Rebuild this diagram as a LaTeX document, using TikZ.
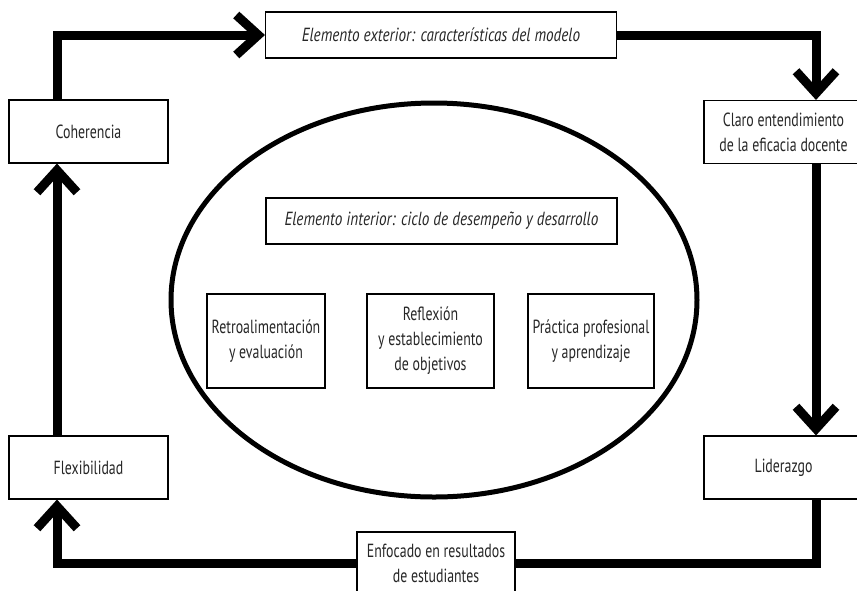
\documentclass[tikz,border=0pt]{standalone}
\usepackage{fontspec}
\setmainfont[FakeStretch=0.73]{PT Sans}
\newfontfamily\titlefont[FakeStretch=0.8]{PT Sans}
\usetikzlibrary{arrows.meta}

\begin{document}
\begin{tikzpicture}[
        x=1pt, y=-1pt,
        box/.style={draw, line width=1.1pt, align=center, inner sep=0pt,
            text=black!85, font=\fontsize{19}{25}\selectfont},
        sidebox/.style={box, minimum width=159pt, minimum height=63pt},
        titlebox/.style={box, minimum width=351pt, minimum height=46pt,
            font=\fontsize{19}{25}\selectfont\titlefont\itshape},
        cyclebox/.style={box, minimum height=94pt},
        link/.style={line width=9pt, line join=miter},
        flow/.style={link, -{Straight Barb[length=22pt, width=40pt]}},
    ]
    \useasboundingbox (0,0) rectangle (857,590);
    \clip (0,0) rectangle (857,590);

    \node[titlebox] (ext) at (441,35) {Elemento exterior: características del modelo};
    \node[sidebox] (coh) at (88.5,131.5) {Coherencia};
    \node[sidebox] (claro) at (783.5,132) {Claro entendimiento\\de la eficacia docente};
    \node[sidebox] (flex) at (88.5,467.5) {Flexibilidad};
    \node[sidebox] (lid) at (783.5,467.5) {Liderazgo};
    \node[box, minimum width=158pt, minimum height=62pt] (enf) at (436,563)
        {Enfocado en resultados\\de estudiantes};

    \draw[line width=5pt] (434,300) ellipse [x radius=263, y radius=197];
    \node[titlebox] (int) at (441.5,221) {Elemento interior: ciclo de desempeño y desarrollo};
    \node[cyclebox, minimum width=118pt] (retro) at (266,341) {Retroalimentación\\y evaluación};
    \node[cyclebox, minimum width=127pt] (refl) at (430.5,341) {Reflexión\\y establecimiento\\de objetivos};
    \node[cyclebox, minimum width=126pt] (prac) at (591,341) {Práctica profesional\\y aprendizaje};

    \draw[flow] ([xshift=-31.5pt]coh.north) |- (ext.west);
    \draw[flow] (ext.east) -| ([xshift=32.5pt]claro.north);
    \draw[flow] ([xshift=32.5pt]claro.south) -- ([xshift=32.5pt]lid.north);
    \draw[link] ([xshift=32.5pt]lid.south) |- (enf.east);
    \draw[flow] (enf.west) -| ([xshift=-31.5pt]flex.south);
    \draw[flow] ([xshift=-31.5pt]flex.north) -- ([xshift=-31.5pt]coh.south);
\end{tikzpicture}
\end{document}
